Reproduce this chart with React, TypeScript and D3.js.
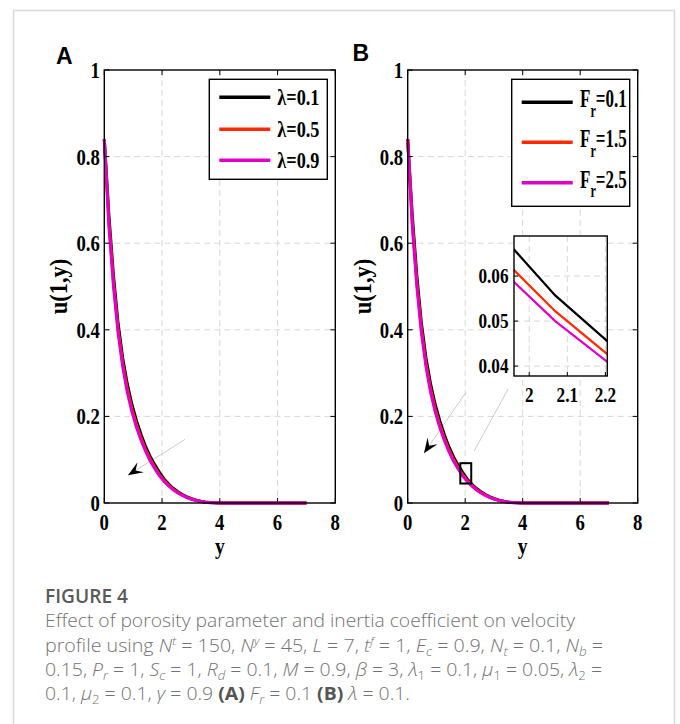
import React from 'react';
import * as d3 from 'd3';

// ---------- data ----------
const L_DOMAIN = 7;
const N_POINTS = 45;
const Y_GRID = d3.range(N_POINTS).map((i) => (i * L_DOMAIN) / (N_POINTS - 1));

const U_LOW = [0.84, 0.665, 0.525, 0.415, 0.335, 0.275, 0.228, 0.19, 0.158, 0.13, 0.107, 0.088, 0.0707, 0.0557, 0.0439, 0.034, 0.026, 0.0195, 0.014, 0.0098, 0.0065, 0.004, 0.0022, 0.001, 0.0003,
  0, 0, 0, 0, 0, 0, 0, 0, 0, 0, 0, 0, 0, 0, 0, 0, 0, 0, 0, 0];
const U_MID = [0.84, 0.65, 0.51, 0.402, 0.323, 0.264, 0.218, 0.181, 0.15, 0.123, 0.101, 0.082, 0.0656, 0.0522, 0.0411, 0.0318, 0.0243, 0.0182, 0.0131, 0.0091, 0.006, 0.0037, 0.002, 0.0009, 0.0003,
  0, 0, 0, 0, 0, 0, 0, 0, 0, 0, 0, 0, 0, 0, 0, 0, 0, 0, 0, 0];
const U_HIGH = [0.84, 0.64, 0.5, 0.393, 0.315, 0.256, 0.211, 0.175, 0.145, 0.119, 0.097, 0.079, 0.0628, 0.05, 0.0395, 0.0305, 0.0233, 0.0175, 0.0126, 0.0087, 0.0057, 0.0035, 0.0019, 0.0008, 0.0003,
  0, 0, 0, 0, 0, 0, 0, 0, 0, 0, 0, 0, 0, 0, 0, 0, 0, 0, 0, 0];

const SERIES = [U_LOW, U_MID, U_HIGH];
const COLORS = ['#000000', '#ff2a00', '#e000c8'];
const LEGEND_A = ['0.1', '0.5', '0.9'];
const LEGEND_B = ['0.1', '1.5', '2.5'];

const X_TICKS = [0, 2, 4, 6, 8];
const Y_TICKS = [0, 0.2, 0.4, 0.6, 0.8, 1];
const INSET_X_TICKS = [2, 2.1, 2.2];
const INSET_Y_TICKS = [0.04, 0.05, 0.06];
const INSET_X_DOMAIN = [1.96, 2.205];
const INSET_Y_DOMAIN = [0.0378, 0.0689];
const ZOOM_RECT = { x0: 1.83, x1: 2.21, y0: 0.045, y1: 0.092 };

// annotation arrows in data units: [tailX, tailY, tipX, tipY]
const ARROW_A = [2.795, 0.147, 0.82, 0.064];
const ARROW_B = [2.03, 0.256, 0.567, 0.115];
const CONNECTOR_B = [3.49, 0.263, 2.31, 0.12];

// ---------- layout ----------
const TOP = 70;
const BOTTOM = 503;
const SERIF = '"Liberation Serif", "Times New Roman", serif';
const SANS = '"Liberation Sans", Arial, sans-serif';
const CAP = '"Open Sans", "Noto Sans", sans-serif';
const GRID = '#d8d8d8';

type TProps = { x: number; y: number; size?: number; anchor?: string; sx?: number; rot?: number; children?: React.ReactNode };
const T = ({ x, y, size = 24, anchor = 'start', sx = 0.78, rot = 0, children }: TProps) => (
  <text
    transform={`translate(${x},${y})${rot ? ` rotate(${rot})` : ''} scale(${sx},1)`}
    fontSize={size}
    fontFamily={SERIF}
    fontWeight="bold"
    textAnchor={anchor as any}
    fill="#000"
  >
    {children}
  </text>
);

function arrowHead(tx: number, ty: number, fx: number, fy: number, len = 15, w = 6) {
  const dx = tx - fx, dy = ty - fy;
  const n = Math.hypot(dx, dy);
  const ux = dx / n, uy = dy / n;
  const px = -uy, py = ux;
  const bx = tx - ux * len, by = ty - uy * len;
  const ix = tx - ux * len * 0.6, iy = ty - uy * len * 0.6;
  return `M${tx},${ty} L${bx + px * w},${by + py * w} L${ix},${iy} L${bx - px * w},${by - py * w} Z`;
}

type PanelProps = { left: number; right: number; label: string; labelX: number; labelY: number; kind: 'A' | 'B' };

function Panel({ left, right, label, labelX, labelY, kind }: PanelProps) {
  const x = d3.scaleLinear().domain([0, 8]).range([left, right]);
  const y = d3.scaleLinear().domain([0, 1]).range([BOTTOM, TOP]);
  const line = d3.line<number>().x((_, i) => x(Y_GRID[i])).y((d) => y(d));
  const tick = 5;
  const arrow = kind === 'A' ? ARROW_A : ARROW_B;
  const [ax0, ay0, ax1, ay1] = [x(arrow[0]), y(arrow[1]), x(arrow[2]), y(arrow[3])];

  const boxW = 118;
  const boxH = kind === 'A' ? 100 : 127;
  const boxX = right - 8 - boxW;
  const boxY = 79.3;
  const rows = kind === 'A' ? [18, 50, 81] : [23, 63, 103.4];

  const xi = d3.scaleLinear().domain(INSET_X_DOMAIN).range([514, 607.3]);
  const yi = d3.scaleLinear().domain(INSET_Y_DOMAIN).range([376, 236]);
  const lineI = d3.line<number>().x((_, i) => xi(Y_GRID[i])).y((d) => yi(d));

  return (
    <g>
      {X_TICKS.slice(1, -1).map((t) => (
        <line key={'gx' + t} x1={x(t)} x2={x(t)} y1={TOP} y2={BOTTOM} stroke={GRID} strokeDasharray="6,4" />
      ))}
      {Y_TICKS.slice(1, -1).map((t) => (
        <line key={'gy' + t} x1={left} x2={right} y1={y(t)} y2={y(t)} stroke={GRID} strokeDasharray="6,4" />
      ))}

      <line x1={ax0} y1={ay0} x2={ax1} y2={ay1} stroke="#cccccc" strokeWidth={1} />
      <path d={arrowHead(ax1, ay1, ax0, ay0)} fill="#000" />
      {kind === 'B' && (
        <line x1={x(CONNECTOR_B[0])} y1={y(CONNECTOR_B[1])} x2={x(CONNECTOR_B[2])} y2={y(CONNECTOR_B[3])} stroke="#cccccc" strokeWidth={1} />
      )}

      {SERIES.map((s, i) => (
        <path key={'c' + i} d={line(s) || ''} fill="none" stroke={COLORS[i]} strokeWidth={3} strokeLinejoin="round" />
      ))}

      {kind === 'B' && (
        <rect x={x(ZOOM_RECT.x0)} y={y(ZOOM_RECT.y1)} width={x(ZOOM_RECT.x1) - x(ZOOM_RECT.x0)} height={y(ZOOM_RECT.y0) - y(ZOOM_RECT.y1)} fill="none" stroke="#000" strokeWidth={2} />
      )}

      <rect x={left} y={TOP} width={right - left} height={BOTTOM - TOP} fill="none" stroke="#000" strokeWidth={1.4} />
      {X_TICKS.map((t) => (
        <g key={'tx' + t}>
          <line x1={x(t)} x2={x(t)} y1={BOTTOM} y2={BOTTOM - tick} stroke="#000" />
          <line x1={x(t)} x2={x(t)} y1={TOP} y2={TOP + tick} stroke="#000" />
          <T x={x(t)} y={530} anchor="middle">{String(t)}</T>
        </g>
      ))}
      {Y_TICKS.map((t) => (
        <g key={'ty' + t}>
          <line x1={left} x2={left + tick} y1={y(t)} y2={y(t)} stroke="#000" />
          <line x1={right} x2={right - tick} y1={y(t)} y2={y(t)} stroke="#000" />
          <T x={left - 4.5} y={y(t) + 8} anchor="end">{String(t)}</T>
        </g>
      ))}

      <T x={(left + right) / 2} y={554} anchor="middle" size={23} sx={0.85}>y</T>
      <T x={left - 37} y={(TOP + BOTTOM) / 2} anchor="middle" rot={-90} size={25} sx={0.9}>u(1,y)</T>

      <text x={labelX} y={labelY} fontFamily={SANS} fontWeight="bold" fontSize={23} fill="#000">{label}</text>

      <rect x={boxX} y={boxY} width={boxW} height={boxH} fill="#fff" stroke="#000" strokeWidth={1.4} />
      {rows.map((r, i) => (
        <g key={'lg' + i}>
          <line x1={boxX + 10} x2={boxX + 61} y1={boxY + r} y2={boxY + r} stroke={COLORS[i]} strokeWidth={3.5} />
          {kind === 'A' ? (
            <T x={boxX + 68} y={boxY + r + 8} size={24} sx={0.76}>{'λ=' + LEGEND_A[i]}</T>
          ) : (
            <T x={boxX + 68.3} y={boxY + r + 5} size={25} sx={0.68}>
              F<tspan dy={9.5} fontSize={18}>r</tspan><tspan dy={-9.5}>{'=' + LEGEND_B[i]}</tspan>
            </T>
          )}
        </g>
      ))}

      {kind === 'B' && (
        <g>
          <defs>
            <clipPath id="insetClip">
              <rect x={514} y={236} width={93.3} height={140} />
            </clipPath>
          </defs>
          <rect x={514} y={236} width={93.3} height={140} fill="#fff" />
          {INSET_X_TICKS.map((t) => (
            <line key={'igx' + t} x1={xi(t)} x2={xi(t)} y1={236} y2={376} stroke={GRID} strokeDasharray="6,4" />
          ))}
          {INSET_Y_TICKS.map((t) => (
            <line key={'igy' + t} x1={514} x2={607.3} y1={yi(t)} y2={yi(t)} stroke={GRID} strokeDasharray="6,4" />
          ))}
          <g clipPath="url(#insetClip)">
            {SERIES.map((s, i) => (
              <path key={'ic' + i} d={lineI(s) || ''} fill="none" stroke={COLORS[i]} strokeWidth={2.2} />
            ))}
          </g>
          <rect x={514} y={236} width={93.3} height={140} fill="none" stroke="#000" strokeWidth={1.4} />
          {INSET_X_TICKS.map((t) => (
            <g key={'itx' + t}>
              <line x1={xi(t)} x2={xi(t)} y1={376} y2={372} stroke="#000" />
              <T x={xi(t)} y={401.5} anchor="middle" size={21} sx={0.82}>{String(t)}</T>
            </g>
          ))}
          {INSET_Y_TICKS.map((t) => (
            <g key={'ity' + t}>
              <line x1={514} x2={518} y1={yi(t)} y2={yi(t)} stroke="#000" />
              <T x={508.5} y={yi(t) + 7} anchor="end" size={21} sx={0.82}>{String(t)}</T>
            </g>
          ))}
        </g>
      )}
    </g>
  );
}

const Sub = ({ children, italic = true }: { children: React.ReactNode; italic?: boolean }) => (
  <tspan baselineShift={-4} fontSize={12.5} fontStyle={italic ? 'italic' : 'normal'}>{children}</tspan>
);
const Sup = ({ children }: { children: React.ReactNode }) => (
  <tspan baselineShift={7} fontSize={11.5} fontStyle="italic">{children}</tspan>
);
const I = ({ children }: { children: React.ReactNode }) => <tspan fontStyle="italic">{children}</tspan>;

export default function App() {
  const capProps = { fontFamily: CAP, fontSize: 18.5, fill: '#727272', fontWeight: 300 as any, lengthAdjust: 'spacingAndGlyphs' as any };
  return (
    <svg width={680} height={724} style={{ position: 'absolute', left: 0, top: 0, background: '#fff' }}>
      <rect x={0} y={0} width={680} height={724} fill="#fff" />
      <path d="M13.5,724 L13.5,10.5 L674.5,10.5 L674.5,724" fill="none" stroke="#d9d9d9" strokeWidth={1.5} />

      <Panel left={104.3} right={335.3} label="A" labelX={56} labelY={63.5} kind="A" />
      <Panel left={407.7} right={637.7} label="B" labelX={352.5} labelY={61} kind="B" />

      <text x={45} y={603} fontFamily={CAP} fontSize={19} fontWeight={600} fill="#5a5a5a" textLength={83} lengthAdjust="spacingAndGlyphs">FIGURE 4</text>
      <text x={45} y={627} {...capProps} textLength={530}>Effect of porosity parameter and inertia coefficient on velocity</text>
      <text x={45} y={651.5} {...capProps} textLength={558}>
        profile using <I>N</I><Sup>t</Sup> = 150, <I>N</I><Sup>y</Sup> = 45, <I>L</I> = 7, <I>t</I><Sup>f</Sup> = 1, <I>E</I><Sub>c</Sub> = 0.9, <I>N</I><Sub>t</Sub> = 0.1, <I>N</I><Sub>b</Sub> =
      </text>
      <text x={45} y={676} {...capProps} textLength={557}>
        0.15, <I>P</I><Sub>r</Sub> = 1, <I>S</I><Sub>c</Sub> = 1, <I>R</I><Sub>d</Sub> = 0.1, <I>M</I> = 0.9, <I>β</I> = 3, <I>λ</I><Sub italic={false}>1</Sub> = 0.1, <I>μ</I><Sub italic={false}>1</Sub> = 0.05, <I>λ</I><Sub italic={false}>2</Sub> =
      </text>
      <text x={45} y={700} {...capProps} textLength={365}>
        0.1, <I>μ</I><Sub italic={false}>2</Sub> = 0.1, <I>γ</I> = 0.9 <tspan fontWeight={700} fill="#555">(A)</tspan> <I>F</I><Sub>r</Sub> = 0.1 <tspan fontWeight={700} fill="#555">(B)</tspan> <I>λ</I> = 0.1.
      </text>
    </svg>
  );
}
